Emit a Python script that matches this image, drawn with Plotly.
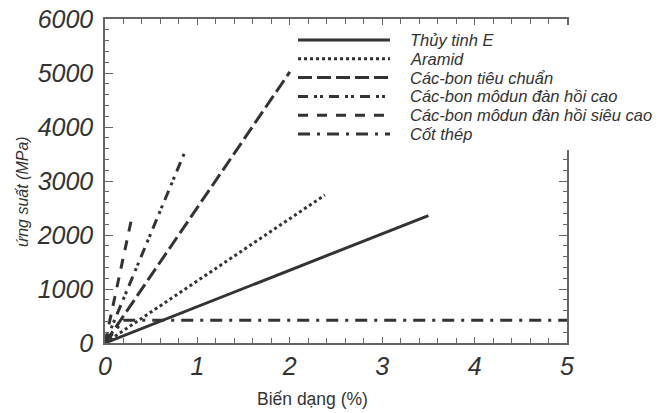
import plotly.graph_objects as go

# ---- data (strain %, stress MPa) ----
series_names = ["Thủy tinh E", "Aramid", "Các-bon tiêu chuẩn",
                "Các-bon môdun đàn hồi cao", "Các-bon môdun đàn hồi siêu cao", "Cốt thép"]
glass_x = [0, 3.5]
glass_y = [0, 2360]
aramid_x = [0, 2.38]
aramid_y = [0, 2740]
carbon_std_x = [0, 2.0]
carbon_std_y = [0, 5020]
carbon_hm_x = [0, 0.86]
carbon_hm_y = [0, 3520]
carbon_uhm_x = [0, 0.29]
carbon_uhm_y = [0, 2320]
steel_x = [0, 0.2, 5]
steel_y = [0, 420, 420]

x_tick_vals = [0, 1, 2, 3, 4, 5]
y_tick_vals = [0, 1000, 2000, 3000, 4000, 5000, 6000]

# ---- styling ----
W, H = 669, 413
L, R, T, B = 105, 102, 19, 70
PW, PH = W - L - R, H - T - B
COL = "#333333"
AXC = "#666666"
dashes = ["solid", "3px,3px", "14px,5px", "10px,6px,3px,3px,3px,6px", "10px,9px", "12px,7px,3px,7px"]

xs = [glass_x, aramid_x, carbon_std_x, carbon_hm_x, carbon_uhm_x, steel_x]
ys = [glass_y, aramid_y, carbon_std_y, carbon_hm_y, carbon_uhm_y, steel_y]

def px(x):
    return (x - L) / PW

def py(y):
    return (H - B - y) / PH

fig = go.Figure()
for name, x, y, d in zip(series_names, xs, ys, dashes):
    fig.add_trace(go.Scatter(x=x, y=y, mode="lines", name=name,
                             line=dict(color=COL, width=3, dash=d),
                             showlegend=False))

shapes = [dict(type="rect", xref="paper", yref="paper",
               x0=px(292), x1=px(669), y0=py(150), y1=py(25),
               fillcolor="white", line=dict(width=0), layer="above")]
annotations = []
row0, step = 40, 18.8
for i, (name, d) in enumerate(zip(series_names, dashes)):
    yy = py(row0 + i * step)
    shapes.append(dict(type="line", xref="paper", yref="paper",
                       x0=px(298), x1=px(390), y0=yy, y1=yy,
                       line=dict(color=COL, width=3, dash=d), layer="above"))
    annotations.append(dict(text=name, xref="paper", yref="paper",
                            x=px(408), y=yy, xanchor="left", yanchor="middle",
                            showarrow=False,
                            font=dict(family="Liberation Sans", size=16.5, color=COL, style="italic")))

annotations.append(dict(text="Biến dạng (%)", xref="paper", yref="paper",
                        x=px(312), y=py(399), xanchor="center", yanchor="middle",
                        showarrow=False,
                        font=dict(family="Liberation Sans", size=17.5, color=COL)))
annotations.append(dict(text="ứng suất (MPa)", xref="paper", yref="paper",
                        x=px(23), y=py(192), xanchor="center", yanchor="middle",
                        textangle=-90, showarrow=False,
                        font=dict(family="Liberation Sans", size=16, color=COL, style="italic")))

tickfont = dict(family="Liberation Sans", size=25, color=COL, style="italic")

fig.update_layout(
    width=W, height=H,
    margin=dict(l=L, r=R, t=T, b=B, autoexpand=False),
    paper_bgcolor="white", plot_bgcolor="white",
    shapes=shapes, annotations=annotations,
    showlegend=False,
    xaxis=dict(range=[0, 5], tickvals=x_tick_vals, ticktext=[str(v) for v in x_tick_vals],
               automargin=False,
               showgrid=False, zeroline=False, showline=True, linecolor=AXC, linewidth=1.5,
               mirror="ticks", ticks="inside", ticklen=6, tickwidth=1.2, tickcolor=AXC,
               minor=dict(dtick=0.2, ticks="inside", ticklen=5, tickwidth=1.2, tickcolor=AXC, showgrid=False),
               tickfont=tickfont, ticklabelstandoff=0),
    yaxis=dict(range=[0, 6000], tickvals=y_tick_vals, ticktext=[str(v) for v in y_tick_vals],
               automargin=False,
               showgrid=False, zeroline=False, showline=True, linecolor=AXC, linewidth=1.5,
               mirror="ticks", ticks="inside", ticklen=8, tickwidth=1.2, tickcolor=AXC,
               minor=dict(dtick=200, ticks="inside", ticklen=4, tickwidth=1.2, tickcolor=AXC, showgrid=False),
               tickfont=tickfont, ticklabelstandoff=5),
)

fig.write_html("out.html", config={"displayModeBar": False},
               post_script="document.body.style.margin='0';document.body.style.overflow='hidden';")
